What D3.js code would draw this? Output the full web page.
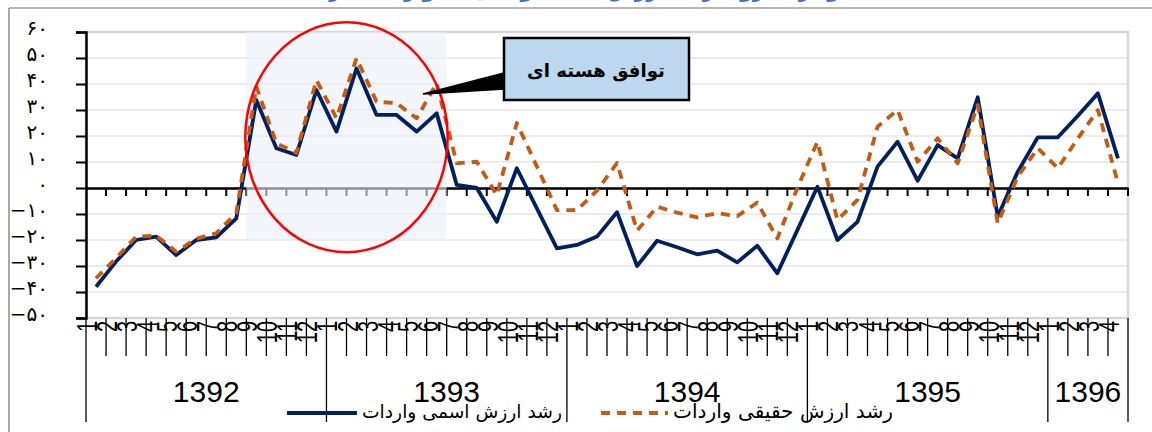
<!DOCTYPE html>
<html><head><meta charset="utf-8">
<script src="https://cdn.jsdelivr.net/npm/d3@7"></script>
<style>body{margin:0;background:#fff;} svg{display:block}</style>
</head><body>
<svg id="c" width="1152" height="432"></svg>
<script>
const years = ["1392","1393","1394","1395","1396"];
const monthsPerYear = [12,12,12,12,4];
const nominalGrowth = [
  -38.0,-28.3,-20.0,-18.7,-25.8,-20.0,-19.0,-11.7,33.8,15.3,12.7,37.7,
  21.7,46.0,28.1,28.1,21.7,28.7,1.2,0.0,-13.0,7.6,-7.8,-23.2,
  -21.9,-18.7,-9.3,-30.0,-20.3,-22.8,-25.5,-24.1,-28.6,-22.2,-32.8,-16.2,
  0.5,-20.0,-13.0,8.2,17.8,2.8,16.5,11.4,34.9,-11.0,6.3,19.5,
  19.5,27.8,36.4,11.4
];
const realGrowth = [
  -34.7,-27.0,-18.7,-18.3,-24.5,-19.5,-17.4,-9.7,39.0,17.2,13.5,41.5,
  26.8,49.9,33.2,32.6,26.8,40.3,9.5,10.1,-2.7,25.0,8.3,-8.5,
  -8.5,-1.0,9.6,-16.4,-7.2,-9.5,-11.3,-9.7,-10.8,-5.6,-19.4,0.0,
  17.8,-12.3,-4.6,23.6,30.0,10.1,19.1,9.5,31.9,-13.6,4.4,15.3,
  7.6,19.1,30.0,1.8
];
const yTicks = [-50,-40,-30,-20,-10,0,10,20,30,40,50,60];
const yTickLabels = ["−۵۰","−۴۰","−۳۰","−۲۰","−۱۰","۰","۱۰","۲۰","۳۰","۴۰","۵۰","۶۰"];
const seriesNames = ["رشد ارزش اسمی واردات","رشد ارزش حقیقی واردات"];
const calloutText = "توافق  هسته ای";
const titleText = "نمودار ۱- روند رشد ارزش اسمی و حقیقی واردات (درصد)";

// build categories
const cats = [];
years.forEach((yr,yi)=>{ for(let m=1;m<=monthsPerYear[yi];m++) cats.push({year:yr, month:m, idx:cats.length}); });

const svg = d3.select("#c");
const L=86, R=1128, T=32, B=318;
const x = d3.scaleBand().domain(cats.map(d=>d.idx)).range([L,R]).padding(0);
const bw = x.bandwidth();
const y = d3.scaleLinear().domain([-50,60]).range([B,T]);
const cx = i => x(i)+bw/2;

// outer frame
svg.append("line").attr("x1",9).attr("y1",8).attr("x2",1152).attr("y2",8).attr("stroke","#6e6e6e").attr("stroke-width",1.2);
svg.append("line").attr("x1",9).attr("y1",8).attr("x2",9).attr("y2",432).attr("stroke","#6e6e6e").attr("stroke-width",1.2);
// title (mostly cut off at the top edge, as in the reference)
svg.append("text").attr("x",575).attr("y",-3).attr("text-anchor","middle")
  .attr("font-family","DejaVu Sans").attr("font-weight","bold").attr("font-size",20)
  .attr("fill","#4472c4").attr("direction","rtl").text(titleText);

// gridlines
svg.append("g").selectAll("line").data(yTicks).join("line")
  .attr("x1",L).attr("x2",R).attr("y1",d=>y(d)).attr("y2",d=>y(d))
  .attr("stroke","#d9d9d9").attr("stroke-width",1);
// plot border
svg.append("rect").attr("x",L).attr("y",T).attr("width",R-L).attr("height",B-T)
  .attr("fill","none").attr("stroke","#d6d6d6").attr("stroke-width",2.5);

// y axis
const yAxis = d3.axisLeft(y).tickValues(yTicks).tickSize(10).tickFormat("");
const gy = svg.append("g").attr("transform",`translate(${L},0)`).call(yAxis);
gy.select(".domain").attr("stroke","#000").attr("stroke-width",2.5);
gy.selectAll(".tick line").attr("stroke","#000").attr("stroke-width",2);
svg.append("g").selectAll("text").data(yTicks).join("text")
  .attr("x",48).attr("y",d=>y(d)+3)
  .attr("text-anchor","end").attr("font-family","DejaVu Sans").attr("font-size",20)
  .attr("fill","#000").text((d,i)=>yTickLabels[i]);

// x axis at zero
const xAxis = d3.axisBottom(x).tickSize(0).tickFormat("");
const gx = svg.append("g").attr("transform",`translate(0,${y(0)})`).call(xAxis);
gx.select(".domain").attr("stroke","#000").attr("stroke-width",2.5);
svg.append("g").selectAll("line").data(cats).join("line")
  .attr("x1",d=>x(d.idx)+bw).attr("x2",d=>x(d.idx)+bw)
  .attr("y1",y(0)).attr("y2",y(0)+8).attr("stroke","#000").attr("stroke-width",2);

// category axis at bottom
const yearStarts = [0]; monthsPerYear.forEach(n=>yearStarts.push(yearStarts[yearStarts.length-1]+n));
const bounds = d3.range(cats.length+1);
svg.append("g").selectAll("line").data(bounds).join("line")
  .attr("x1",k=>L+k*bw).attr("x2",k=>L+k*bw)
  .attr("y1",B).attr("y2",k=>yearStarts.includes(k)?422:356)
  .attr("stroke","#000").attr("stroke-width",1.3);
svg.append("g").selectAll("text").data(cats).join("text")
  .attr("transform",d=>`translate(${cx(d.idx)+1},${321}) rotate(-90) scale(1,1.45)`)
  .attr("text-anchor","end").attr("font-family","Liberation Sans").attr("font-size",20)
  .attr("fill","#000").text(d=>d.month);
svg.append("g").selectAll("text").data(years).join("text")
  .attr("x",(d,i)=>(L+yearStarts[i]*bw + L+yearStarts[i+1]*bw)/2)
  .attr("y",402).attr("text-anchor","middle").attr("font-family","Liberation Sans")
  .attr("font-size",30).attr("fill","#000").text(d=>d);

// highlight rectangle
svg.append("rect").attr("x",x(8)).attr("y",y(60)).attr("width",x(18)-x(8)).attr("height",y(-20)-y(60))
  .attr("fill","#e9eef6").attr("opacity",0.6);

// series lines
const line = d3.line().x((d,i)=>cx(i)).y(d=>y(d));
svg.append("path").datum(nominalGrowth).attr("d",line).attr("fill","none")
  .attr("stroke","#002060").attr("stroke-width",3.8).attr("stroke-linejoin","round");
svg.append("path").datum(realGrowth).attr("d",line).attr("fill","none")
  .attr("stroke","#c55a11").attr("stroke-width",3.8).attr("stroke-dasharray","9,7")
  .attr("stroke-linejoin","round");

// red ellipse
svg.append("ellipse").attr("cx",(x(8)+x(18))/2).attr("cy",y(19.5)).attr("rx",(x(18)-x(8))/2+1).attr("ry",115)
  .attr("fill","none").attr("stroke","#ff0000").attr("stroke-width",2.5);

// callout
svg.append("path").attr("d","M504,73 L423,94 L504,89 Z").attr("fill","#000").attr("stroke","#000").attr("stroke-width",1.5);
svg.append("rect").attr("x",504).attr("y",38).attr("width",185).attr("height",62)
  .attr("fill","#bdd7ee").attr("stroke","#000").attr("stroke-width",2.5);
const ct = svg.append("text").attr("x",596).attr("y",77).attr("text-anchor","middle")
  .attr("font-family","DejaVu Sans").attr("font-weight","bold").attr("font-size",20)
  .attr("direction","rtl").attr("fill","#000").text(calloutText);
{ const w = ct.node().getBBox().width; if (w>0) ct.attr("font-size", 20*138/w); }

// legend
const legend = [
  {name:seriesNames[0], color:"#002060", dash:null, x1:287, x2:357, tx:362, tw:200},
  {name:seriesNames[1], color:"#c55a11", dash:"9,7", x1:601, x2:668, tx:673, tw:220}
];
legend.forEach(l=>{
  svg.append("line").attr("x1",l.x1).attr("x2",l.x2).attr("y1",413).attr("y2",413)
    .attr("stroke",l.color).attr("stroke-width",3.8).attr("stroke-dasharray",l.dash);
  const t = svg.append("text").attr("x",l.tx+l.tw/2).attr("y",418).attr("text-anchor","middle")
    .attr("font-family","DejaVu Sans").attr("font-size",19).attr("direction","rtl").attr("fill","#000").text(l.name);
  const w = t.node().getBBox().width; if (w>0) t.attr("font-size", Math.min(22,19*l.tw/w));
});
</script>
</body></html>
